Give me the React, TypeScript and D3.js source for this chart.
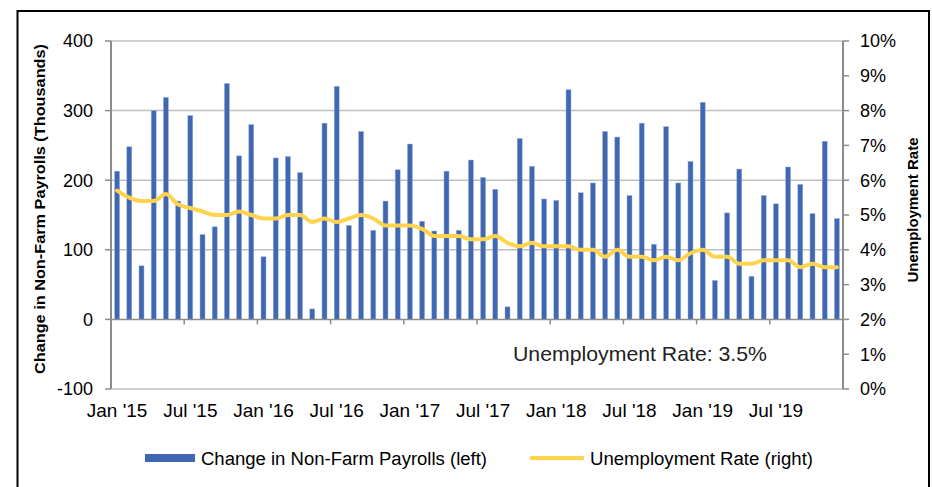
import React from "react";
import * as d3 from "d3";

const payrolls: number[] = [
  213, 248, 77, 300, 319, 170, 293, 122, 133, 339, 235, 280,
  90, 232, 234, 211, 15, 282, 335, 135, 270, 128, 170, 215,
  252, 141, 127, 213, 128, 229, 204, 187, 18, 260, 220, 173,
  171, 330, 182, 196, 270, 262, 178, 282, 108, 277, 196, 227,
  312, 56, 153, 216, 62, 178, 166, 219, 194, 152, 256, 145,
];

const unemployment: number[] = [
  5.7, 5.5, 5.4, 5.4, 5.6, 5.3, 5.2, 5.1, 5.0, 5.0, 5.1, 5.0,
  4.9, 4.9, 5.0, 5.0, 4.8, 4.9, 4.8, 4.9, 5.0, 4.9, 4.7, 4.7,
  4.7, 4.6, 4.4, 4.4, 4.4, 4.3, 4.3, 4.4, 4.2, 4.1, 4.2, 4.1,
  4.1, 4.1, 4.0, 4.0, 3.8, 4.0, 3.8, 3.8, 3.7, 3.8, 3.7, 3.9,
  4.0, 3.8, 3.8, 3.6, 3.6, 3.7, 3.7, 3.7, 3.5, 3.6, 3.5, 3.5,
];

const months: string[] = d3
  .timeMonths(new Date(2015, 0, 1), new Date(2020, 0, 1))
  .map((d) => d3.timeFormat("%Y-%m")(d));

const xTickLabels: string[] = [
  "Jan '15", "Jul '15", "Jan '16", "Jul '16", "Jan '17",
  "Jul '17", "Jan '18", "Jul '18", "Jan '19", "Jul '19",
];

const leftTicks: number[] = [-100, 0, 100, 200, 300, 400];
const rightTicks: number[] = [0, 1, 2, 3, 4, 5, 6, 7, 8, 9, 10];

const BLUE = "#4068B2";
const YELLOW = "#FFD34E";
const GRID = "#BFBFBF";
const AXIS = "#8C8C8C";
const FONT = "Liberation Sans, Arial, sans-serif";

export default function App() {
  const left = 111;
  const right = 843;
  const top = 41;
  const bottom = 389;

  const x = d3.scaleBand<string>().domain(months).range([left, right]).paddingInner(0).paddingOuter(0);
  const yL = d3.scaleLinear().domain([-100, 400]).range([bottom, top]);
  const yR = d3.scaleLinear().domain([0, 10]).range([bottom, top]);
  const step = x.step();
  const barW = 5;

  const line = d3
    .line<number>()
    .x((_, i) => (x(months[i]) as number) + step / 2)
    .y((d) => yR(d))
    .curve(d3.curveMonotoneX);

  const sixIdx = d3.range(0, months.length + 1, 6);

  return (
    <svg
      width={932}
      height={487}
      style={{ position: "absolute", left: 0, top: 0, background: "#fff" }}
      fontFamily={FONT}
    >
      <rect x={0} y={0} width={932} height={487} fill="#fff" />
      {/* frame */}
      <rect x={17.5} y={11} width={911.5} height={500} fill="none" stroke="#000" strokeWidth={2} />

      {/* gridlines */}
      {leftTicks
        .filter((t) => t !== 0)
        .map((t) => (
          <line key={"g" + t} x1={left} x2={right} y1={yL(t)} y2={yL(t)} stroke={GRID} strokeWidth={1.5} />
        ))}

      {/* bars */}
      {payrolls.map((v, i) => (
        <rect
          key={"b" + i}
          x={(x(months[i]) as number) + step / 2 - barW / 2}
          y={Math.min(yL(v), yL(0))}
          width={barW}
          height={Math.abs(yL(v) - yL(0))}
          fill={BLUE}
          stroke="#9DB3DD"
          strokeWidth={0.5}
        />
      ))}

      {/* zero axis line */}
      <line x1={left} x2={right} y1={yL(0)} y2={yL(0)} stroke={AXIS} strokeWidth={1.5} />
      {sixIdx.map((i) => {
        const xx = left + i * step;
        return <line key={"xt" + i} x1={xx} x2={xx} y1={yL(0)} y2={yL(0) + 5} stroke={AXIS} strokeWidth={1.5} />;
      })}

      {/* unemployment line */}
      <path d={line(unemployment) || ""} fill="none" stroke={YELLOW} strokeWidth={4} strokeLinejoin="round" strokeLinecap="round" />

      {/* left axis */}
      <line x1={left} x2={left} y1={top} y2={bottom} stroke={AXIS} strokeWidth={2} />
      {leftTicks.map((t) => (
        <g key={"lt" + t}>
          <line x1={left - 6} x2={left} y1={yL(t)} y2={yL(t)} stroke={AXIS} strokeWidth={1.5} />
          <text x={93} y={yL(t)} dy="0.36em" textAnchor="end" fontSize={18} fill="#000">
            {t}
          </text>
        </g>
      ))}

      {/* right axis */}
      <line x1={right} x2={right} y1={top} y2={bottom} stroke={AXIS} strokeWidth={2} />
      {rightTicks.map((t) => (
        <g key={"rt" + t}>
          <line x1={right} x2={right + 6} y1={yR(t)} y2={yR(t)} stroke={AXIS} strokeWidth={1.5} />
          <text x={860} y={yR(t)} dy="0.36em" textAnchor="start" fontSize={18} fill="#000">
            {t + "%"}
          </text>
        </g>
      ))}

      {/* x tick labels */}
      {xTickLabels.map((lab, k) => (
        <text
          key={"xl" + k}
          x={(x(months[k * 6]) as number) + step / 2}
          y={417}
          textAnchor="middle"
          fontSize={19}
          fill="#000"
        >
          {lab}
        </text>
      ))}

      {/* axis titles */}
      <text
        transform={`translate(45,209) rotate(-90)`}
        textAnchor="middle"
        fontSize={14}
        fontWeight="bold"
        fill="#000"
        textLength={330}
        lengthAdjust="spacingAndGlyphs"
      >
        Change in Non-Farm Payrolls (Thousands)
      </text>
      <text
        transform={`translate(918,210) rotate(-90)`}
        textAnchor="middle"
        fontSize={14}
        fontWeight="bold"
        fill="#000"
        textLength={145}
        lengthAdjust="spacingAndGlyphs"
      >
        Unemployment Rate
      </text>

      {/* annotation */}
      <text x={513} y={361} fontSize={21} fill="#222" textLength={254} lengthAdjust="spacingAndGlyphs">
        Unemployment Rate: 3.5%
      </text>

      {/* legend */}
      <rect x={145} y={454} width={50} height={8} fill={BLUE} />
      <text x={201} y={465} fontSize={18} fill="#000" textLength={286} lengthAdjust="spacingAndGlyphs">
        Change in Non-Farm Payrolls (left)
      </text>
      <line x1={530} x2={584} y1={458} y2={458} stroke={YELLOW} strokeWidth={4} />
      <text x={590} y={465} fontSize={18} fill="#000" textLength={223} lengthAdjust="spacingAndGlyphs">
        Unemployment Rate (right)
      </text>
    </svg>
  );
}
